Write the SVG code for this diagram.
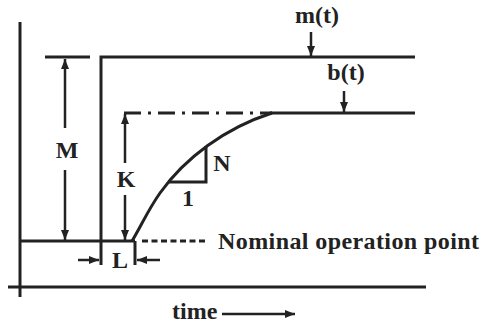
<svg xmlns="http://www.w3.org/2000/svg" width="482" height="324" viewBox="0 0 482 324">
<style>
.t{font-family:"Liberation Serif","Times New Roman",serif;font-weight:bold;font-size:24px;fill:#222}
.ln{stroke:#222;stroke-width:3;fill:none}
.ar{stroke:#222;stroke-width:2.5;fill:none}
</style>
<defs>
<marker id="ah" markerUnits="userSpaceOnUse" markerWidth="10" markerHeight="10" viewBox="0 0 10 10" refX="10" refY="5" orient="auto">
<path d="M0,1 L10,5 L0,9 Z" fill="#222"/>
</marker>
</defs>
<rect width="482" height="324" fill="#fff"/>
<g id="axes">
<line class="ln" x1="20" y1="22" x2="20" y2="297"/>
<line class="ln" x1="8" y1="287" x2="426" y2="287"/>
</g>
<g id="signals">
<polyline class="ln" points="20,241 135,241"/>
<polyline class="ln" points="101,265 101,57 415,57"/>
<line class="ln" x1="135" y1="241" x2="135" y2="265"/>
<line class="ln" x1="142" y1="241" x2="208" y2="241" stroke-dasharray="6 3.5"/>
<line class="ln" x1="45" y1="57" x2="90" y2="57"/>
<line class="ln" x1="124" y1="113" x2="272" y2="113" stroke-dasharray="17 7 3 7"/>
<line class="ln" x1="270" y1="113" x2="415" y2="113"/>
<path class="ln" d="M132,241 C140,228 148,210 160,193 C185,158 225,128 272,113"/>
<polyline class="ln" points="168,182 206,182 206,146"/>
</g>
<g id="connectors">
<line class="ar" x1="65" y1="128" x2="65" y2="59" marker-end="url(#ah)"/>
<line class="ar" x1="65" y1="170" x2="65" y2="240" marker-end="url(#ah)"/>
<line class="ar" x1="125" y1="163" x2="125" y2="114" marker-end="url(#ah)"/>
<line class="ar" x1="125" y1="195" x2="125" y2="240" marker-end="url(#ah)"/>
<line class="ar" x1="78" y1="260" x2="99" y2="260" marker-end="url(#ah)"/>
<line class="ar" x1="160" y1="260" x2="137" y2="260" marker-end="url(#ah)"/>
<line class="ar" x1="311" y1="32" x2="311" y2="56" marker-end="url(#ah)"/>
<line class="ar" x1="344" y1="91" x2="344" y2="112" marker-end="url(#ah)"/>
<line class="ar" x1="222" y1="314" x2="295" y2="314" marker-end="url(#ah)"/>
</g>
<g id="labels">
<text class="t" x="67" y="158" text-anchor="middle">M</text>
<text class="t" x="126" y="187" text-anchor="middle">K</text>
<text class="t" x="222" y="171" text-anchor="middle">N</text>
<text class="t" x="188" y="206" text-anchor="middle">1</text>
<text class="t" x="120" y="268" text-anchor="middle">L</text>
<text class="t" x="317" y="23" text-anchor="middle">m(t)</text>
<text class="t" x="346" y="80" text-anchor="middle">b(t)</text>
<text class="t" x="218" y="249" textLength="261" lengthAdjust="spacing">Nominal operation point</text>
<text class="t" x="172" y="319">time</text>
</g>
</svg>
